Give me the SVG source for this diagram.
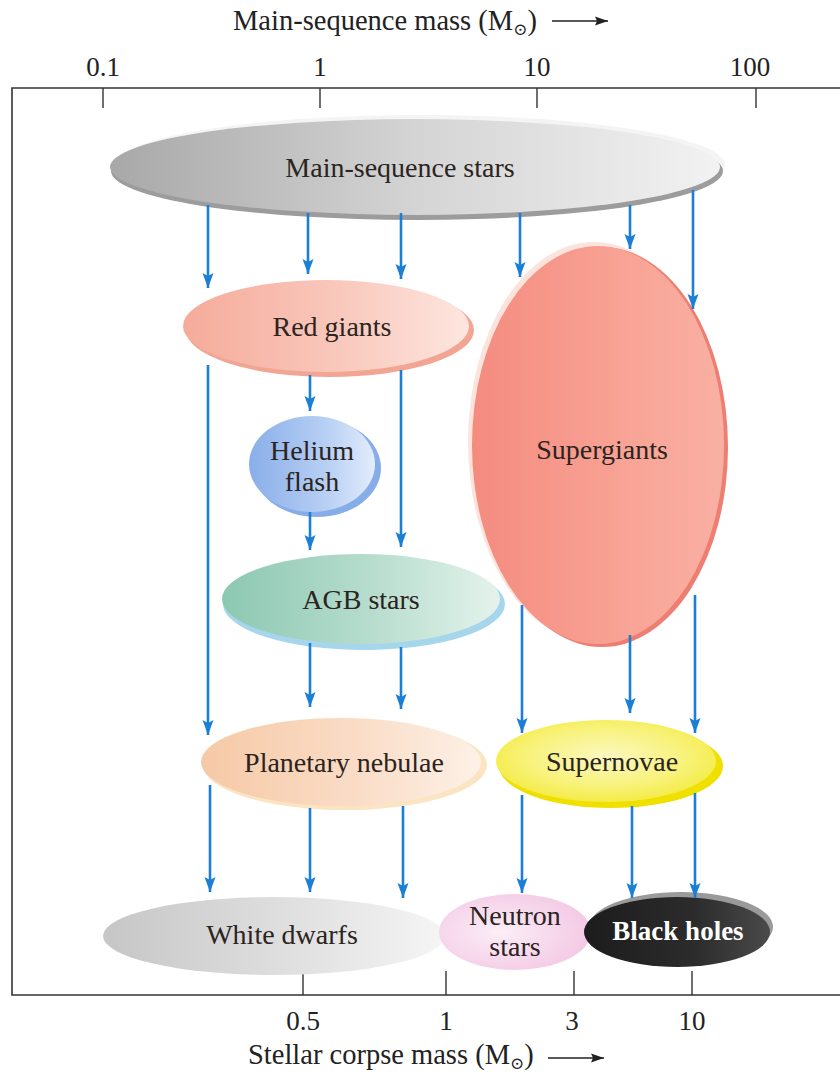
<svg xmlns="http://www.w3.org/2000/svg" width="840" height="1076" viewBox="0 0 840 1076">
<style>
text{font-family:"Liberation Serif","DejaVu Serif",serif;fill:#2b2420}
.lbl{font-size:28px;text-anchor:middle}
.ax{font-size:27px;text-anchor:middle;fill:#222}
.ttl{font-size:28.5px;fill:#222}
.sub{font-size:17px}
.frame{fill:none;stroke:#333;stroke-width:1.6}
.tick{stroke:#333;stroke-width:1.4}
.conn line{stroke:#1b7fd6;stroke-width:2.6;marker-end:url(#ah)}
</style>
<defs>
<marker id="ah" markerUnits="userSpaceOnUse" viewBox="0 -6 15 12" refX="15" refY="0" markerWidth="15" markerHeight="12" orient="auto">
<path d="M0,-5.5 L15,0 L0,5.5 L3,0 z" fill="#1b7fd6"/>
</marker>
<marker id="ak" markerUnits="userSpaceOnUse" viewBox="0 -5 13 10" refX="13" refY="0" markerWidth="13" markerHeight="10" orient="auto">
<path d="M0,-4.5 L13,0 L0,4.5 L2,0 z" fill="#222"/>
</marker>
<linearGradient id="gMS" x1="0" y1="0" x2="1" y2="0"><stop offset="0" stop-color="#a8a8a8"/><stop offset="0.5" stop-color="#d4d4d4"/><stop offset="1" stop-color="#f2f2f2"/></linearGradient>
<linearGradient id="gRG" x1="0" y1="0" x2="1" y2="0"><stop offset="0" stop-color="#f5ab9a"/><stop offset="0.55" stop-color="#f9c8bc"/><stop offset="1" stop-color="#fde6df"/></linearGradient>
<linearGradient id="gHF" x1="0" y1="0" x2="1" y2="0"><stop offset="0" stop-color="#8aaee9"/><stop offset="0.6" stop-color="#b6cff4"/><stop offset="1" stop-color="#e2ecfb"/></linearGradient>
<linearGradient id="gAGB" x1="0" y1="0" x2="1" y2="0"><stop offset="0" stop-color="#8cc8b1"/><stop offset="0.55" stop-color="#b8ddcf"/><stop offset="1" stop-color="#e4f3ec"/></linearGradient>
<linearGradient id="gSG" x1="0" y1="0" x2="1" y2="0"><stop offset="0" stop-color="#f48b7f"/><stop offset="0.6" stop-color="#f8a395"/><stop offset="1" stop-color="#f9b0a3"/></linearGradient>
<linearGradient id="gPN" x1="0" y1="0" x2="1" y2="0"><stop offset="0" stop-color="#f6c9a6"/><stop offset="0.55" stop-color="#fadcc6"/><stop offset="1" stop-color="#fdf1e6"/></linearGradient>
<radialGradient id="gSN" cx="0.5" cy="0.45" r="0.6"><stop offset="0" stop-color="#fbf8c0"/><stop offset="0.6" stop-color="#f8f27a"/><stop offset="1" stop-color="#f3ea3a"/></radialGradient>
<linearGradient id="gWD" x1="0" y1="0" x2="1" y2="0"><stop offset="0" stop-color="#c6c6c6"/><stop offset="0.6" stop-color="#e2e2e2"/><stop offset="1" stop-color="#f5f5f5"/></linearGradient>
<radialGradient id="gNS" cx="0.4" cy="0.5" r="0.65"><stop offset="0" stop-color="#fbeef7"/><stop offset="1" stop-color="#f3c6e3"/></radialGradient>
<linearGradient id="gBH" x1="0" y1="0" x2="1" y2="0"><stop offset="0" stop-color="#1c1c1c"/><stop offset="0.6" stop-color="#2c2c2c"/><stop offset="1" stop-color="#4a4a4a"/></linearGradient>
</defs>
<rect width="840" height="1076" fill="#ffffff"/>

<g id="axes">
<text class="ttl" x="233" y="30">Main-sequence mass (M<tspan class="sub" dy="5">⊙</tspan><tspan dy="-5">)</tspan></text>
<line x1="552" y1="21" x2="608" y2="21" stroke="#222" stroke-width="1.6" marker-end="url(#ak)"/>
<path class="frame" d="M840,88 L12,88 L12,995 L840,995"/>
<line class="tick" x1="103" y1="88" x2="103" y2="108"/>
<line class="tick" x1="320" y1="88" x2="320" y2="108"/>
<line class="tick" x1="537" y1="88" x2="537" y2="108"/>
<line class="tick" x1="756" y1="88" x2="756" y2="108"/>
<text class="ax" x="103" y="76">0.1</text>
<text class="ax" x="320" y="76">1</text>
<text class="ax" x="537" y="76">10</text>
<text class="ax" x="750" y="76">100</text>
<line class="tick" x1="303" y1="971" x2="303" y2="995"/>
<line class="tick" x1="446" y1="971" x2="446" y2="995"/>
<line class="tick" x1="574" y1="971" x2="574" y2="995"/>
<line class="tick" x1="692" y1="971" x2="692" y2="995"/>
<text class="ax" x="303" y="1030">0.5</text>
<text class="ax" x="446" y="1030">1</text>
<text class="ax" x="572" y="1030">3</text>
<text class="ax" x="692" y="1030">10</text>
<text class="ttl" x="248" y="1064">Stellar corpse mass (M<tspan class="sub" dy="5">⊙</tspan><tspan dy="-5">)</tspan></text>
<line x1="548" y1="1058" x2="604" y2="1058" stroke="#222" stroke-width="1.6" marker-end="url(#ak)"/>
</g>

<g id="main-sequence">
<ellipse cx="420" cy="165" rx="305" ry="50" fill="#f4f4f4"/>
<ellipse cx="417" cy="171" rx="306" ry="49" fill="#9c9c9c"/>
<ellipse cx="415" cy="167" rx="305" ry="48" fill="url(#gMS)"/>
<text class="lbl" x="400" y="177">Main-sequence stars</text>
</g>

<g id="supergiants">
<ellipse cx="594" cy="442" rx="126" ry="200" fill="#fce3dc"/>
<ellipse cx="602" cy="447" rx="126" ry="200" fill="#ee7e72"/>
<ellipse cx="598" cy="445" rx="126" ry="199" fill="url(#gSG)"/>
<text class="lbl" x="602" y="459">Supergiants</text>
</g>

<g id="red-giants">
<ellipse cx="330" cy="330" rx="144" ry="47" fill="#f3a594"/>
<ellipse cx="326" cy="326" rx="143" ry="46" fill="url(#gRG)"/>
<text class="lbl" x="332" y="336">Red giants</text>
</g>

<g id="helium-flash">
<ellipse cx="317" cy="468" rx="64" ry="49" fill="#87ade9"/>
<ellipse cx="312" cy="464" rx="63" ry="48" fill="url(#gHF)"/>
<text class="lbl" x="312" y="460">Helium</text>
<text class="lbl" x="312" y="491">flash</text>
</g>

<g id="agb-stars">
<ellipse cx="364" cy="604" rx="141" ry="46" fill="#a6d6ec"/>
<ellipse cx="361" cy="599" rx="139" ry="45" fill="url(#gAGB)"/>
<text class="lbl" x="361" y="609">AGB stars</text>
</g>

<g id="planetary-nebulae">
<ellipse cx="345" cy="765" rx="142" ry="45" fill="#fbe4c2"/>
<ellipse cx="341" cy="762" rx="140" ry="44" fill="url(#gPN)"/>
<text class="lbl" x="344" y="772">Planetary nebulae</text>
</g>

<g id="supernovae">
<ellipse cx="611" cy="766" rx="112" ry="42" fill="#efe000"/>
<ellipse cx="606" cy="761" rx="110" ry="41" fill="url(#gSN)"/>
<text class="lbl" x="612" y="771">Supernovae</text>
</g>

<g id="white-dwarfs">
<ellipse cx="274" cy="936" rx="171" ry="39" fill="url(#gWD)"/>
<text class="lbl" x="282" y="944">White dwarfs</text>
</g>

<g id="neutron-stars">
<ellipse cx="515" cy="932" rx="76" ry="38" fill="url(#gNS)"/>
<text class="lbl" x="515" y="925">Neutron</text>
<text class="lbl" x="515" y="956">stars</text>
</g>

<g id="black-holes">
<ellipse cx="681" cy="927" rx="92" ry="35" fill="#9a9a9a"/>
<ellipse cx="677" cy="932" rx="93" ry="35" fill="url(#gBH)"/>
<text class="lbl" x="678" y="940" style="fill:#ffffff;font-weight:bold;font-size:27px">Black holes</text>
</g>

<g id="connectors" class="conn">
<line x1="208" y1="205" x2="208" y2="288"/>
<line x1="308" y1="213" x2="308" y2="274"/>
<line x1="401" y1="213" x2="401" y2="279"/>
<line x1="520" y1="213" x2="520" y2="277"/>
<line x1="630" y1="205" x2="630" y2="249"/>
<line x1="693" y1="190" x2="693" y2="309"/>
<line x1="208" y1="365" x2="208" y2="735"/>
<line x1="310" y1="375" x2="310" y2="411"/>
<line x1="401" y1="370" x2="401" y2="547"/>
<line x1="310" y1="512" x2="310" y2="550"/>
<line x1="310" y1="643" x2="310" y2="707"/>
<line x1="401" y1="647" x2="401" y2="709"/>
<line x1="522" y1="605" x2="522" y2="733"/>
<line x1="630" y1="635" x2="630" y2="713"/>
<line x1="695" y1="595" x2="695" y2="733"/>
<line x1="210" y1="785" x2="210" y2="892"/>
<line x1="310" y1="808" x2="310" y2="892"/>
<line x1="403" y1="806" x2="403" y2="898"/>
<line x1="522" y1="795" x2="522" y2="893"/>
<line x1="632" y1="806" x2="632" y2="898"/>
<line x1="695" y1="793" x2="695" y2="898"/>
</g>
</svg>
